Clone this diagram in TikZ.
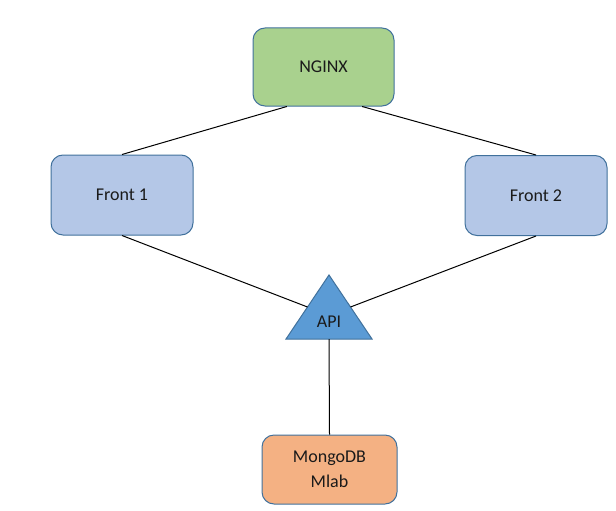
\documentclass[tikz,border=0pt]{standalone}
\usepackage{fontspec}
\setmainfont{Carlito}
\definecolor{nginxgreen}{HTML}{A9D18E}
\definecolor{frontblue}{HTML}{B4C7E7}
\definecolor{apiblue}{HTML}{5B9BD5}
\definecolor{dborange}{HTML}{F4B183}
\definecolor{edgeblue}{HTML}{41719C}
\definecolor{textdark}{HTML}{1A1A1A}
\begin{document}
\begin{tikzpicture}[
  x=0.75pt, y=-0.75pt,
  box/.style={rectangle, rounded corners=9pt, draw=edgeblue, line width=0.75pt, text=textdark, font=\fontsize{13.5}{18.5}\selectfont, align=center, inner sep=0pt},
  link/.style={draw=black, line width=0.75pt}
]
\useasboundingbox (0,0) rectangle (616,510);

% Servers
\node[box, fill=nginxgreen, minimum width=105.75pt, minimum height=58.5pt] (nginx) at (323.5,67) {NGINX};
\node[box, fill=frontblue, minimum width=106.5pt, minimum height=60pt] (front1) at (122,195) {Front 1};
\node[box, fill=frontblue, minimum width=106.5pt, minimum height=60pt] (front2) at (536,195.5) {Front 2};
\node[box, fill=dborange, minimum width=101.25pt, minimum height=51.75pt] (mongo) at (329.5,469.5) {MongoDB\\Mlab};

% API triangle
\coordinate (api-top) at (329,275);
\coordinate (api-l) at (286,339);
\coordinate (api-r) at (372,339);
\coordinate (api-lm) at (307.5,307);
\coordinate (api-rm) at (350.5,307);
\coordinate (api-b) at (329,339);
\draw[fill=apiblue, draw=edgeblue, line width=0.75pt] (api-top) -- (api-r) -- (api-l) -- cycle;
\node[text=textdark, font=\fontsize{13.5}{18.5}\selectfont] (api) at (329,322) {API};

% Links
\draw[link] ([xshift=-27.5pt]nginx.south) -- (front1.north);
\draw[link] ([xshift=29pt]nginx.south) -- (front2.north);
\draw[link] (front1.south) -- (api-lm);
\draw[link] (front2.south) -- (api-rm);
\draw[link] (api-b) -- (mongo.north);

\end{tikzpicture}
\end{document}
